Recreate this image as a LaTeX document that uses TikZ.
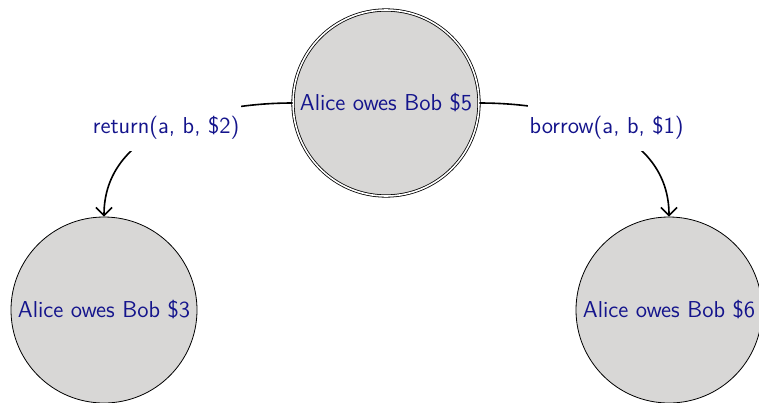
\documentclass[tikz,border=0pt]{standalone}
\usetikzlibrary{arrows.meta}
\definecolor{labelblue}{RGB}{20,20,140}
\definecolor{statefill}{RGB}{216,215,214}
\begin{document}
\begin{tikzpicture}[x=0.5pt,y=-0.5pt,
  txt/.style={font=\sffamily\fontsize{11.5}{13}\selectfont,text=labelblue},
  state/.style={circle,draw=black,fill=statefill,minimum size=93pt,inner sep=1pt,txt},
  accepting/.style={double,double distance=0.8pt},
  transition/.style={thick,-{Straight Barb[length=4pt,width=8pt,line width=0.8pt]}},
  act/.style={fill=white,txt,inner xsep=1pt,inner ysep=6pt}]
  \useasboundingbox (0,0) rectangle (759,402);
  % states
  \node[state,accepting] (owe5) at (386,103) {Alice owes Bob \$5};
  \node[state] (owe3) at (104,310) {Alice owes Bob \$3};
  \node[state] (owe6) at (669,310) {Alice owes Bob \$6};
  % transitions
  \draw[transition] (owe5) to[out=180,in=90] node[act] {return(a, b, \$2)} (owe3);
  \draw[transition] (owe5) to[out=0,in=90] node[act] {borrow(a, b, \$1)} (owe6);
\end{tikzpicture}
\end{document}
